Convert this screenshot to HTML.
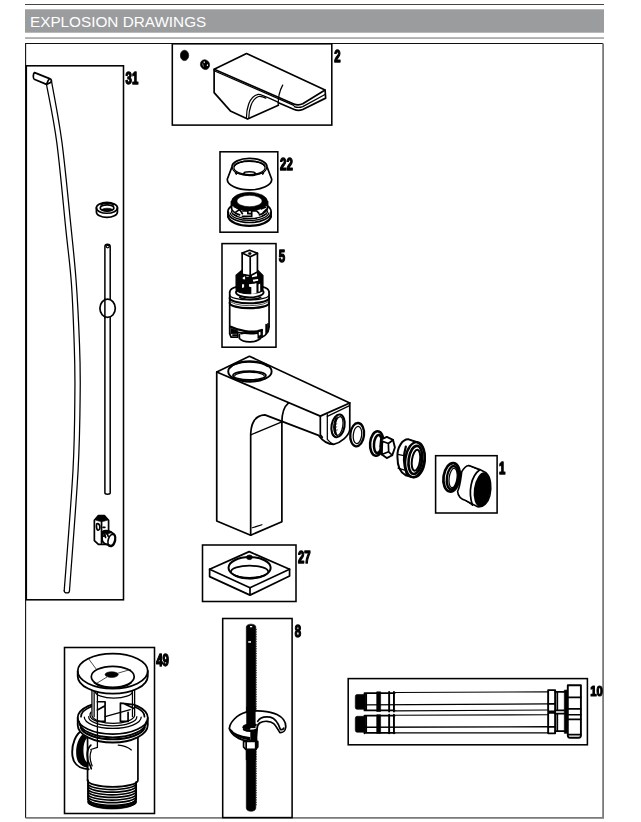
<!DOCTYPE html>
<html><head><meta charset="utf-8">
<style>
html,body{margin:0;padding:0;background:#fff;}
body{width:641px;height:822px;overflow:hidden;font-family:"Liberation Sans",sans-serif;}
svg{display:block;position:absolute;left:0;top:0;}
.k{fill:none;stroke:#000;stroke-width:1.25;stroke-linejoin:round;stroke-linecap:round;vector-effect:non-scaling-stroke;}
.t{fill:none;stroke:#000;stroke-width:0.7;stroke-linejoin:round;stroke-linecap:round;vector-effect:non-scaling-stroke;}
.h{fill:none;stroke:#000;stroke-width:1.7;stroke-linejoin:round;stroke-linecap:round;vector-effect:non-scaling-stroke;}
.w{fill:#fff;stroke:#000;stroke-width:1.25;stroke-linejoin:round;stroke-linecap:round;vector-effect:non-scaling-stroke;}
.f{fill:#000;stroke:#000;stroke-width:0.6;vector-effect:non-scaling-stroke;}
.bx{fill:none;stroke:#000;stroke-width:1.55;}
.lb{font-family:"Liberation Sans",sans-serif;font-weight:bold;font-size:15.6px;fill:#000;stroke:#000;stroke-width:1.35;stroke-linejoin:round;}
</style></head><body>
<svg width="641" height="822" viewBox="0 0 641 822">
<rect x="0" y="0" width="641" height="822" fill="#fff"/>
<!-- header -->
<rect x="25" y="4" width="579" height="1" fill="#444"/>
<rect x="25" y="9.3" width="579" height="23.4" fill="#9b9c9e"/>
<rect x="25" y="37.2" width="579" height="1.7" fill="#a9a9a9"/>
<text x="30" y="27.1" font-family="Liberation Sans, sans-serif" font-size="15.3" fill="#fff">EXPLOSION DRAWINGS</text>
<!-- frame -->
<path d="M25.6 818 V43.5 H603" fill="none" stroke="#111" stroke-width="1.1"/>
<path d="M603.1 43.5 V817.9 H25.6" fill="none" stroke="#7a7a7a" stroke-width="1.8"/>
<!-- boxes -->
<rect class="bx" x="26.3" y="65.8" width="97.2" height="534"/>
<rect class="bx" x="172.3" y="43.8" width="159.5" height="81.3"/>
<rect class="bx" x="220" y="151.8" width="57.8" height="80.4"/>
<rect class="bx" x="222" y="243.6" width="54" height="103.6"/>
<rect class="bx" x="202.5" y="545" width="93.5" height="56.5"/>
<rect class="bx" x="435.6" y="455.7" width="61.5" height="57.3"/>
<rect class="bx" x="64.5" y="647.5" width="90" height="166"/>
<rect class="bx" x="222.7" y="618.5" width="69.4" height="199.1"/>
<rect class="bx" x="348.2" y="678.6" width="239.2" height="66.2"/>
<!-- labels -->
<g class="lb" style="opacity:0.999">
<text transform="translate(125.6,83.8) scale(0.73,1)">31</text>
<text transform="translate(334.2,62.2) scale(0.73,1)">2</text>
<text transform="translate(280.1,170.2) scale(0.73,1)">22</text>
<text transform="translate(278.8,262.3) scale(0.73,1)">5</text>
<text transform="translate(297.9,562.5) scale(0.73,1)">27</text>
<text transform="translate(499.0,473.5) scale(0.73,1)">1</text>
<text transform="translate(156.2,665.5) scale(0.73,1)">49</text>
<text transform="translate(294.8,636.5) scale(0.73,1)">8</text>
<text transform="translate(590.2,696.3) scale(0.73,0.92)">10</text>
</g>
<!-- ===== 31 lever rod ===== -->
<g id="p31">
<path class="k" d="M46.5 84.4 C48.2 94.1 53.6 118.4 56.8 142.7 C60.0 166.9 63.5 206.7 65.9 229.9 C68.3 253.1 69.9 263.0 71.3 282.0 C72.7 301.0 73.6 326.0 74.2 344.0 C74.8 362.0 75.1 369.0 74.9 390.0 C74.7 411.0 74.8 436.6 73.0 470.0 C71.2 503.4 65.7 570.6 64.2 590.7"/>
<path class="k" d="M51.4 80.7 C53.2 91.0 58.7 117.8 62.0 142.7 C65.3 167.6 68.9 206.7 71.3 229.9 C73.7 253.1 74.8 263.0 76.2 282.0 C77.6 301.0 78.8 326.0 79.5 344.0 C80.2 362.0 80.4 369.0 80.2 390.0 C80.0 411.0 79.9 436.6 78.1 470.0 C76.3 503.4 70.9 570.6 69.5 590.7"/>
<path class="k" d="M64.2 590.7 C64.3 593.6 69.3 593.8 69.5 590.7"/>
<path class="h" d="M46.5 84.4 L34.2 79.2 C32.9 78.4 33 73.3 34.6 72.6 L49.6 78.6 C51.8 79.6 51.9 81.2 50.6 82.4 L46.5 84.4 C47.2 82 48 80 49.6 78.6"/>
<!-- thin rod -->
<path class="h" style="stroke-width:1.5" d="M104.9 493 V246.5 C104.9 243.6 110.2 243.6 110.2 246.5 V493 C110.2 494.6 104.9 494.6 104.9 493Z"/>
<ellipse class="k" cx="107.7" cy="246.6" rx="1.6" ry="1.2"/>
<ellipse class="w" style="stroke-width:1.7" cx="107.6" cy="308.3" rx="7.7" ry="9.1"/>
<path class="h" style="stroke-width:1.5" d="M104.9 299 V318"/>
<!-- ring -->
<g transform="translate(85,190) scale(0.078)">
<path class="h" d="M146 228 A135 70 0 0 1 416 228 V282 A135 70 0 0 1 146 282Z"/>
<path class="h" d="M146 228 A135 70 0 0 0 416 228"/>
<ellipse class="h" cx="283" cy="230" rx="88" ry="40"/>
<path class="f" d="M215 250 A80 32 0 0 1 355 250 A80 32 0 0 1 215 250Z"/>
<path class="h" d="M205 190 A90 40 0 0 1 365 190"/>
</g>
<!-- clamp -->
<g transform="translate(85,505) scale(0.0624)">
<path class="h" d="M150 245 L215 170 H310 L378 245 V420 M150 245 V570 L215 632 H360"/>
<path class="f" d="M165 240 L220 172 H308 L368 240 L300 262 H235Z"/>
<path class="h" d="M265 262 V610"/>
<path class="h" d="M190 300 C250 280 255 420 200 400 C180 380 180 320 190 300Z"/>
<path class="h" d="M290 357 H318"/>
<path class="h" d="M275 430 C330 390 420 420 440 450 C500 470 500 560 470 620 C450 670 400 680 370 640 C330 630 270 600 275 540Z"/>
<ellipse class="h" cx="425" cy="560" rx="52" ry="92" transform="rotate(18 425 560)"/>
<path class="h" d="M300 500 L318 470 L330 520 M360 470 L372 500"/>
<path class="f" d="M275 430 C300 405 400 400 440 450 C400 440 360 470 340 470 C320 450 290 470 275 500Z"/>
</g>
</g>
<!-- ===== 2 handle ===== -->
<g id="p2">
<ellipse class="f" cx="184.5" cy="55.4" rx="4.2" ry="5.2"/>
<ellipse class="f" cx="205" cy="64.6" rx="4.5" ry="5" transform="rotate(-30 205 64.6)"/>
<ellipse cx="204.2" cy="62.2" rx="0.6" ry="1" fill="#fff"/>
<ellipse cx="207.4" cy="65.2" rx="0.6" ry="0.9" fill="#fff"/>
<path d="M202.4 63.5 L203.6 66.6" stroke="#999" stroke-width="0.8" fill="none"/>
<g transform="translate(205,45) scale(0.2028)">
<path class="h" d="M45 120 L205 42 L592 222 L482 290 Q460 300 438 291 Z"/>
<path class="k" d="M45 127 L438 298"/>
<path class="h" d="M592 222 L595 262 L482 318 Q460 326 440 318 L362 285"/>
<path class="k" d="M440 304 Q460 312 482 304 L594 243"/>
<path class="h" d="M45 120 V235 L125 325 L210 365 L362 297"/>
<path class="k" d="M204 362 C204 320 215 255 262 244 C275 242 290 250 362 283"/>
<path class="k" d="M216 360 C216 322 228 268 264 254 C276 250 288 256 300 262"/>
<path class="k" d="M383 198 C368 225 360 250 361 296"/>
</g>
</g>
<!-- ===== 22 cap + ring ===== -->
<g id="p22" transform="translate(215,148) scale(0.10954)">
<path class="h" d="M155 172 A160 77 0 0 1 475 172 L518 285 A203 98 0 0 1 112 285 Z"/>
<path class="k" d="M160 180 A155 72 0 0 0 470 180"/>
<ellipse class="k" cx="315" cy="180" rx="142" ry="62"/>
<path class="h" d="M175 165 A142 55 0 0 1 455 165"/>
<path class="k" d="M190 228 Q315 262 440 228"/>
<path class="k" d="M195 240 L185 225 M435 240 L445 225"/>
<ellipse class="h" cx="315" cy="232" rx="52" ry="15"/>
<!-- lower ring -->
<path class="h" d="M118 585 A197 95 0 0 0 512 585 A197 95 0 0 0 470 522"/>
<path class="h" d="M118 585 A197 95 0 0 1 160 522"/>
<path class="h" style="stroke-width:2.2" d="M120 625 A196 95 0 0 0 510 625"/>
<path class="h" d="M118 585 V628 M512 585 V628"/>
<path class="k" d="M138 592 A178 78 0 0 0 492 592"/>
<path class="k" d="M150 575 A165 70 0 0 0 480 575"/>
<path d="M150 490 A165 85 0 0 1 480 490 A165 85 0 0 1 150 490Z M200 484 A115 52 0 0 0 430 484 A115 52 0 0 0 200 484Z" fill="#000" fill-rule="evenodd" stroke="#000" stroke-width="0.6" vector-effect="non-scaling-stroke"/>
<path class="h" d="M150 490 V545 M480 490 V545"/>
<path class="h" d="M150 545 A165 80 0 0 0 225 610 M480 545 A165 80 0 0 1 405 610"/>
<path class="h" d="M175 535 L225 560 L190 585 M225 560 L250 600 M255 575 H300 V600 H335 V575 H380 L400 595 M335 600 V625 H250 M425 555 L460 540 M440 590 L470 560"/>
<path class="k" d="M160 600 L200 620 M470 600 L430 620 M260 645 H380"/>
</g>
<!-- ===== 5 cartridge ===== -->
<g id="p5" transform="translate(210,238) scale(0.13866)">
<!-- collar (dark) -->
<ellipse class="w" style="stroke-width:1.8" cx="287" cy="392" rx="100" ry="36"/>
<path d="M188 268 L229 234 H345 L382 270 V372 A97 30 0 0 1 188 372Z" fill="#000" stroke="#000" stroke-width="1.2" vector-effect="non-scaling-stroke"/>
<path d="M301 256 L338 250 L340 275 L303 283Z M236 284 L253 276 V300 L236 295Z M231 333 H246 V355 L231 360Z M281 333 L335 327 V399 L298 404 V355 L281 350Z M350 333 L362 330 V384 L350 387Z M308 301 L347 295 V309 L313 315Z M262 268 H280 V280 H262Z" fill="#fff"/>
<!-- stem -->
<path class="w" style="stroke-width:1.7" d="M232 108 L285 88 L342 110 V246 L290 272 L232 262Z"/>
<path class="h" d="M232 108 L290 136 L342 110 M290 136 V272"/>
<ellipse class="f" cx="287" cy="112" rx="11" ry="8"/>
<path class="h" d="M215 428 A80 22 0 0 0 365 428"/>
<!-- body -->
<path class="h" d="M142 390 C144 370 167 358 192 352 M380 352 C408 358 425 372 426 390"/>
<path class="h" d="M142 390 V690 M426 390 V640"/>
<path class="h" style="stroke-width:2.1" d="M142 433 A142 38 0 0 0 426 433"/>
<path class="h" style="stroke-width:2.1" d="M142 468 A142 38 0 0 0 426 468"/>
<path class="k" d="M142 409 A142 38 0 0 0 426 409"/>
<path class="t" d="M142 450 A142 38 0 0 0 426 450"/>
<!-- bottom -->
<path class="h" style="stroke-width:2.2" d="M150 640 C200 665 300 690 375 665"/>
<path class="h" d="M426 640 C424 680 408 700 375 715 M375 660 V715"/>
<path class="h" d="M405 625 V690 M418 620 V675"/>
<path class="h" d="M142 690 L152 715 H200 V690"/>
<path class="f" d="M150 650 L200 668 V690 H150Z"/>
<path class="h" d="M165 680 H195 M165 700 H195"/>
<path class="h" d="M200 680 C250 690 320 695 372 680"/>
<path class="h" d="M212 695 V725 C240 758 340 758 368 720"/>
<path class="h" d="M225 690 C260 680 320 680 350 690"/>
<path class="f" d="M345 665 L372 660 V715 L345 725Z"/>
<path d="M352 680 L364 676 V700 L352 704Z" fill="#fff"/>
</g>
<!-- ===== main body ===== -->
<g id="body" transform="translate(205,350) scale(0.24961)">
<path class="h" d="M47 88 L178 25 L580 212 L462 265 Z"/>
<path class="h" d="M47 88 V685 L183 742 L308 688 V290 C308 250 315 228 335 212"/>
<path class="h" d="M183 742 V335 C185 285 205 262 240 260 L455 342 C470 362 490 378 515 378 C545 372 575 345 580 320 V212"/>
<path class="k" d="M183 340 L308 288"/>
<path class="h" d="M462 265 V340 L470 350"/>
<path class="k" d="M490 258 V358 C500 370 510 376 515 378"/>
<path class="k" d="M490 266 L579 223"/>
<path class="k" d="M190 712 L228 700"/>
<!-- top hole -->
<ellipse class="h" cx="180" cy="86" rx="87" ry="41" style="stroke-width:1.9"/>
<path class="k" d="M100 72 A84 36 0 0 1 250 66"/>
<ellipse class="h" cx="178" cy="102" rx="66" ry="17.5"/>
<path class="k" d="M119 104 A59 15 0 0 1 237 104"/>
<path class="h" d="M142 119 A42 9 0 0 0 222 118"/>
<!-- spout hole -->
<ellipse class="h" cx="533" cy="304" rx="26" ry="46" transform="rotate(10 533 304)" style="stroke-width:2.1"/>
<ellipse class="k" cx="536" cy="304" rx="16" ry="38" transform="rotate(10 536 304)"/>
<path class="k" d="M524 272 C514 295 514 320 522 338 M530 268 C520 295 520 322 528 342"/>
<path class="t" d="M516 300 L528 296 M516 312 L528 308 M518 324 L530 320"/>
</g>
<!-- ===== spout parts ===== -->
<g id="sp" transform="translate(340,410) scale(0.156)">
<ellipse class="h" cx="110" cy="158" rx="44" ry="75" transform="rotate(6 110 158)" style="stroke-width:2.3"/>
<ellipse class="k" cx="112" cy="160" rx="27" ry="56" transform="rotate(6 112 160)"/>
<!-- nut + washer -->
<ellipse class="h" cx="236" cy="215" rx="43" ry="79" transform="rotate(5 236 215)" style="stroke-width:2.5"/>
<ellipse class="h" cx="243" cy="218" rx="25" ry="58" transform="rotate(5 243 218)" style="stroke-width:2.5"/>
<path class="w" style="stroke-width:1.9" d="M262 190 L300 172 L340 192 L352 240 L335 290 L300 308 L268 285 L258 235Z"/>
<path class="h" d="M272 200 L310 215 L340 192 M310 215 L312 268 L335 290 M312 268 L268 285 M272 200 L268 285"/>
<path class="f" d="M258 235 L262 190 L272 200 L268 285Z"/>
<!-- housing -->
<path class="w" style="stroke-width:2" d="M368 300 C366 240 400 185 440 188 L490 205 C530 220 548 270 545 320 C540 390 505 435 470 432 L420 418 C385 400 368 360 368 300Z"/>
<ellipse class="h" cx="480" cy="318" rx="61" ry="113" transform="rotate(8 480 318)" style="stroke-width:2.4"/>
<ellipse class="h" cx="483" cy="320" rx="43" ry="91" transform="rotate(8 483 320)" style="stroke-width:2.6"/>
<ellipse class="h" cx="487" cy="322" rx="26" ry="68" transform="rotate(8 487 322)" style="stroke-width:2"/>
<path class="h" style="stroke-width:2.2" d="M422 235 C405 290 405 350 428 412"/>
<path class="k" d="M370 285 L410 292 M372 372 L415 385"/>
</g>
<g id="p1" transform="translate(425,445) scale(0.1404)">
<ellipse class="h" cx="190" cy="230" rx="58" ry="102" transform="rotate(8 190 230)" style="stroke-width:2.7"/>
<ellipse class="h" cx="196" cy="233" rx="40" ry="84" transform="rotate(8 196 233)" style="stroke-width:2.3"/>
<ellipse class="k" cx="200" cy="235" rx="28" ry="70" transform="rotate(8 200 235)"/>
<path class="w" style="stroke-width:1.6" d="M262 190 C275 165 295 148 312 146 L390 175 L435 198 C470 230 475 300 462 360 C450 410 415 445 375 440 L290 396 C255 385 235 365 232 330 C250 300 255 240 262 190Z"/>
<ellipse cx="408" cy="318" rx="60" ry="124" transform="rotate(8 408 318)" fill="#000"/>
<path class="h" d="M388 178 C330 220 305 330 338 428"/>
<path class="k" d="M312 146 L388 178 M290 396 L338 428"/>
</g>
<!-- ===== 27 base plate ===== -->
<g id="p27" transform="translate(195,538) scale(0.195)">
<path class="h" d="M75 160 L278 70 L485 160 L282 255 Z"/>
<path class="h" d="M75 160 V198 L282 293 L485 195 V160 M282 255 V293"/>
<ellipse class="h" cx="280" cy="153" rx="108" ry="55" style="stroke-width:2"/><path d="M172 156 A108 55 0 0 0 388 156 A108 44 0 0 1 172 156Z" fill="#000"/>
<path class="h" d="M185 172 A95 30 0 0 1 375 172"/>
<path class="k" d="M195 185 A90 26 0 0 0 368 185"/>
<ellipse class="f" cx="279" cy="99" rx="15" ry="12"/>
</g>
<!-- ===== 49 drain ===== -->
<g id="p49" transform="translate(58,640) scale(0.21898)">
<!-- body -->
<path class="h" d="M135 440 V640 M137 640 V722 A110 38 0 0 0 357 722 V648"/>
<path class="h" d="M135 640 A112 30 0 0 0 365 640 M365 440 V640"/>
<path class="h" d="M137 655 A110 28 0 0 0 357 655"/><path class="h" d="M137 667 A110 28 0 0 0 357 667"/><path class="h" d="M137 679 A110 28 0 0 0 357 679"/><path class="h" d="M137 691 A110 28 0 0 0 357 691"/><path class="h" d="M137 703 A110 28 0 0 0 357 703"/><path class="h" d="M137 715 A110 28 0 0 0 357 715"/><path class="h" d="M137 727 A110 28 0 0 0 357 727"/><path class="h" d="M137 739 A110 28 0 0 0 357 739"/>
<path class="f" d="M137 728 A110 34 0 0 0 357 728 V738 A110 34 0 0 1 137 738Z"/>
<!-- left bump -->
<path class="h" style="stroke-width:1.9" d="M118 408 C80 425 60 478 66 530 C73 574 100 587 140 590"/>
<path d="M112 432 C82 458 76 522 90 552 C102 574 120 582 138 584 L140 566 C126 556 120 545 117 520 C114 488 118 462 134 446Z" fill="#000"/>
<path class="h" d="M150 480 C128 500 128 545 148 575 L152 588"/>
<path class="k" d="M150 500 L180 490 M152 505 C144 525 146 552 156 575"/>
<path class="k" d="M275 480 C300 482 320 490 335 502"/>
<!-- flange -->
<path class="w" style="stroke-width:1.8" d="M90 355 A160 75 0 0 1 410 355 V388 A160 80 0 0 1 90 388Z"/>
<path class="h" d="M90 355 A160 75 0 0 0 410 355"/>
<path class="h" d="M96 372 A154 72 0 0 0 404 372"/>
<path class="h" d="M105 350 A145 62 0 0 1 395 350"/>
<path class="k" d="M120 352 A130 52 0 0 0 380 352"/>
<path class="k" d="M140 350 A110 42 0 0 0 360 350"/>
<path class="h" style="stroke-width:2.1" d="M104 400 A148 64 0 0 0 396 400"/>
<!-- stem -->
<path class="w" d="M155 215 V345 A98 40 0 0 0 350 345 V215Z"/>
<path class="k" d="M165 235 V350 M340 235 V350"/>
<path class="h" d="M180 282 H215 V372 H180 M215 300 L180 320"/>
<path class="h" d="M285 372 V288 L345 295 M300 290 L345 312 M285 372 H320 V330"/>
<path class="k" d="M215 350 L330 318"/>
<path class="k" d="M180 230 V490"/>
<path class="k" d="M170 235 A85 30 0 0 0 340 235"/>
<path class="k" d="M150 330 C140 345 150 365 180 372"/>
<!-- cap -->
<path class="w" style="stroke-width:1.8" d="M90 142 A160 80 0 0 1 410 142 V165 A160 80 0 0 1 90 165Z"/>
<path class="h" d="M90 142 A160 80 0 0 0 410 142"/>
<ellipse class="h" cx="250" cy="168" rx="98" ry="48"/>
<path class="k" d="M165 195 A95 42 0 0 0 335 195"/>
<ellipse class="f" cx="245" cy="158" rx="30" ry="13"/>
<path class="t" d="M140 86 L176 135 M178 197 L222 170 M272 152 L330 135"/>
</g>
<!-- ===== 8 threaded rod ===== -->
<g id="p8">
<path class="f" d="M246.3 627 C246.3 623.2 255.8 623.2 255.8 627 V808 C255.8 812.4 246.3 812.4 246.3 808Z"/>
<rect x="248.2" y="641.2" width="2.8" height="1.5" fill="#fff"/><rect x="250" y="626" width="2.2" height="1.3" fill="#fff"/><path d="M256.2 629 V806" stroke="#000" stroke-width="0.9" stroke-dasharray="1.1 1.3" fill="none"/>
<g transform="translate(222,700) scale(0.11232)">
<path class="w" style="stroke-width:1.7" d="M65 255 C70 200 130 130 215 108 C300 88 420 95 490 130 C540 155 570 195 568 240 C565 275 540 292 515 290 C500 270 485 230 460 210 C430 185 370 182 335 205 C318 218 312 240 312 260 L300 365 L240 367 C160 355 90 320 65 255Z"/>
<path class="h" d="M318 190 C335 158 380 145 430 152 C480 165 505 215 520 262 C530 268 545 262 550 250"/>
<path class="h" d="M80 270 C110 315 170 340 245 352 M72 262 C95 300 160 325 245 338"/>
<path d="M216 60 H299 V250 H216Z" fill="#000"/>
<path class="h" style="stroke-width:2.2" d="M190 245 C195 225 240 215 300 222 M195 262 C230 280 280 278 310 262"/>
<path class="f" d="M190 240 C200 225 230 220 250 222 L250 262 C220 268 195 260 190 240Z M255 270 H312 V420 H255Z"/>
<path class="w" style="stroke-width:1.7" d="M192 368 H318 V418 L300 440 H212 L192 418Z"/>
<path class="h" d="M215 372 V438 M300 372 V438"/>
<path class="f" d="M300 370 H318 V418 L300 438Z"/>
<path class="f" d="M215 440 H300 V534 H215Z"/>
</g>
</g>
<!-- ===== 10 hoses ===== -->
<g id="p10" transform="translate(340,670) scale(0.21841)">
<path class="k" style="stroke-width:1.1" d="M250 103 L953 100 M250 187 L953 183 M250 207 L953 205 M250 288 L953 288"/>
<path class="h" style="stroke-width:1.35" d="M112 160 L953 155 M112 262 L953 260"/>
<path class="f" d="M78 112 H112 V180 H78 Q70 180 70 170 V122 Q70 112 78 112Z"/>
<path class="f" d="M78 212 H112 V285 H78 Q70 285 70 275 V222 Q70 212 78 212Z"/>
<path class="h" d="M112 106 H250 M112 185 H250 M112 106 V185 M120 110 V182"/>
<path class="h" d="M112 209 H250 M112 288 H250 M112 209 V290 M120 212 V286"/>
<path class="f" d="M168 100 H186 V190 H168Z M168 205 H186 V290 H168Z"/>
<path class="h" style="stroke-width:1.9" d="M225 100 V190 M247 100 V190 M225 205 V290 M247 205 V290"/>
<path class="w" style="stroke-width:1.9" d="M953 92 H985 V190 H953Z M953 196 H985 V290 H953Z"/>
<path class="h" d="M953 155 H985 M953 260 H985"/>
<path class="h" d="M985 100 H1027 M985 185 H1027 M985 200 H1027 M985 280 H1027 M995 100 V185 M995 200 V280"/>
<path class="f" d="M1027 92 H1043 V290 H1027Z"/>
<path class="w" style="stroke-width:1.9" d="M1043 70 H1103 V300 Q1103 310 1093 310 H1053 Q1043 310 1043 300Z"/>
<path class="h" d="M1043 125 H1103 M1043 178 H1103 M1043 205 H1103 M1043 226 H1103 M1043 296 H1103"/>
</g>
<!--PARTS-->
</svg>
</body></html>
